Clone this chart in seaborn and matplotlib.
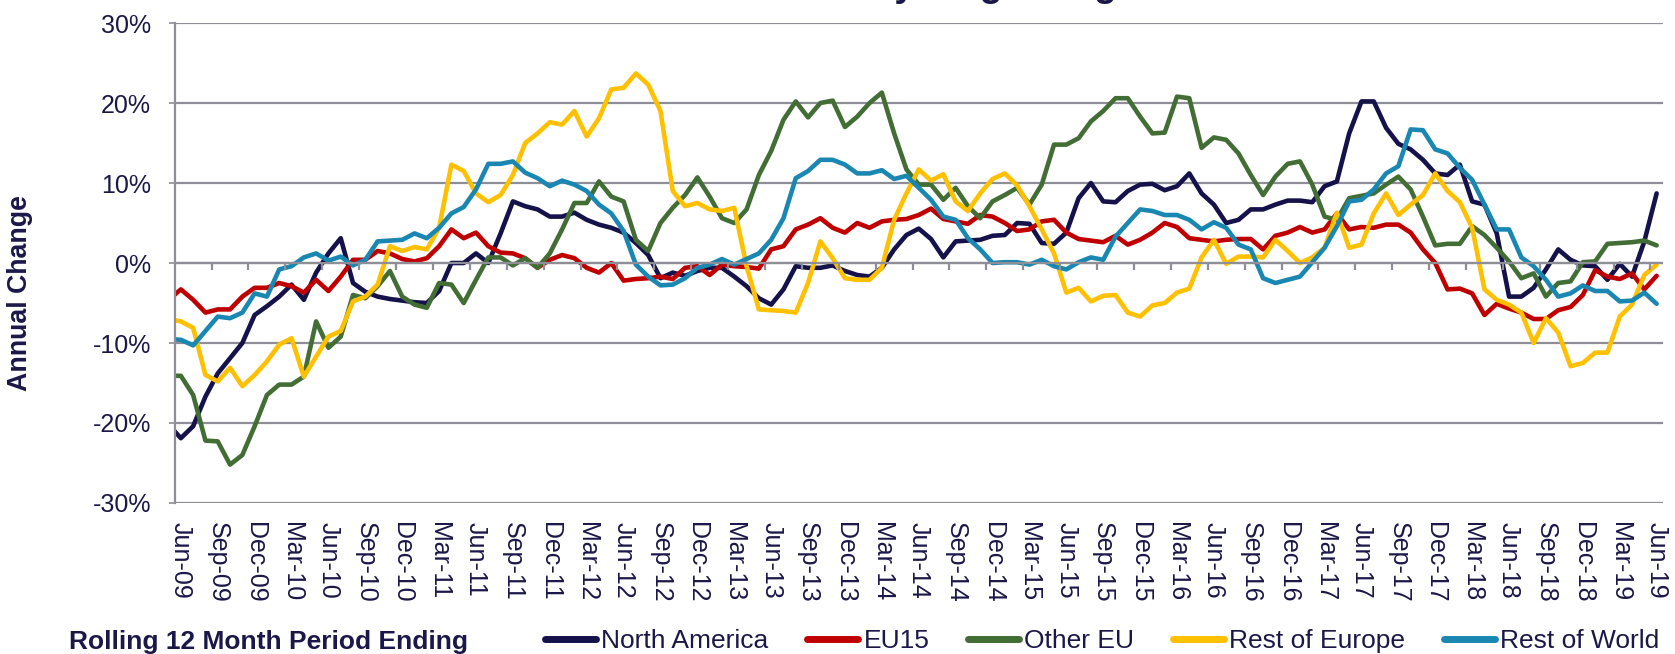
import pandas as pd
import matplotlib
matplotlib.use("Agg")
import matplotlib.pyplot as plt
import seaborn as sns

# monthly rolling-12-month annual change (%), May-09 .. Jun-19
# (May-09 sits just outside the left edge, as in the original chart)
months = pd.period_range("2009-05", "2019-06", freq="M")

north_america = [
    -20.2, -21.9, -20.4, -16.7, -13.8, -11.9, -10.0, -6.5, -5.4, -4.2, -2.7, -4.6,
    -1.2, 1.2, 3.1, -2.5, -3.6, -4.2, -4.5, -4.7, -4.9, -5.0, -3.5, 0.0,
    0.0, 1.2, 0.0, 3.7, 7.7, 7.1, 6.7, 5.8, 5.8, 6.3, 5.4, 4.8,
    4.4, 3.8, 2.5, 1.0, -1.9, -1.2, -1.6, -1.0, -0.6, -0.6, -1.7, -2.9,
    -4.4, -5.2, -3.3, -0.4, -0.6, -0.6, -0.3, -1.0, -1.5, -1.7, -0.6, 1.7,
    3.5, 4.3, 3.0, 0.7, 2.7, 2.8, 2.9, 3.4, 3.5, 5.0, 4.9, 2.5,
    2.4, 3.8, 8.1, 10.0, 7.7, 7.6, 9.0, 9.8, 9.9, 9.1, 9.6, 11.2,
    8.7, 7.3, 5.0, 5.4, 6.7, 6.7, 7.3, 7.8, 7.8, 7.6, 9.6, 10.2,
    16.2, 20.2, 20.2, 16.9, 14.9, 14.2, 12.9, 11.2, 11.0, 12.3, 7.7, 7.3,
    3.7, -4.2, -4.2, -3.1, -0.8, 1.7, 0.4, -0.3, -0.4, -2.1, -0.1, -1.7,
    2.7, 8.7,
]
eu15 = [
    -4.6, -3.3, -4.6, -6.2, -5.8, -5.8, -4.2, -3.1, -3.1, -2.5, -2.9, -3.7,
    -2.1, -3.5, -1.7, 0.4, 0.4, 1.5, 1.2, 0.5, 0.2, 0.6, 2.1, 4.2,
    3.1, 3.8, 2.1, 1.3, 1.2, 0.6, -0.6, 0.4, 1.0, 0.6, -0.6, -1.2,
    0.0, -2.2, -2.0, -1.9, -1.7, -2.0, -0.6, -0.4, -1.5, -0.2, -0.4, -0.5,
    -0.7, 1.7, 2.1, 4.2, 4.8, 5.6, 4.4, 3.8, 5.0, 4.4, 5.2, 5.4,
    5.5, 6.0, 6.8, 5.5, 5.2, 4.9, 6.0, 5.8, 5.0, 4.0, 4.2, 5.2,
    5.4, 3.8, 3.0, 2.8, 2.6, 3.4, 2.3, 2.9, 3.8, 5.0, 4.5, 3.1,
    2.9, 2.7, 2.9, 3.0, 3.0, 1.7, 3.4, 3.8, 4.5, 3.8, 4.2, 6.2,
    4.2, 4.5, 4.4, 4.8, 4.8, 3.8, 1.7, 0.0, -3.3, -3.2, -3.8, -6.5,
    -5.1, -5.7, -6.2, -7.0, -7.0, -5.9, -5.5, -4.0, -0.9, -1.7, -2.0, -1.3,
    -3.3, -1.6,
]
other_eu = [
    -14.1, -14.1, -16.5, -22.2, -22.3, -25.2, -24.0, -20.4, -16.5, -15.2, -15.2, -14.2,
    -7.3, -10.6, -9.2, -4.0, -4.4, -2.9, -1.0, -4.2, -5.2, -5.6, -2.5, -2.7,
    -5.0, -2.1, 0.7, 0.7, -0.3, 0.6, -0.6, 1.2, 4.2, 7.5, 7.5, 10.2,
    8.3, 7.7, 2.9, 1.5, 5.0, 6.9, 8.5, 10.7, 8.3, 5.6, 5.0, 6.7,
    11.0, 14.0, 17.9, 20.2, 18.2, 20.0, 20.3, 17.0, 18.3, 20.0, 21.3, 16.2,
    11.7, 9.8, 9.8, 7.9, 9.4, 7.1, 5.6, 7.7, 8.5, 9.4, 7.3, 9.8,
    14.8, 14.8, 15.6, 17.7, 19.0, 20.6, 20.6, 18.3, 16.2, 16.3, 20.8, 20.6,
    14.4, 15.7, 15.4, 13.7, 11.0, 8.5, 10.8, 12.4, 12.7, 9.8, 5.8, 5.4,
    8.1, 8.4, 8.7, 9.8, 10.8, 9.2, 5.8, 2.2, 2.4, 2.4, 4.6, 3.5,
    1.9, 0.2, -1.9, -1.3, -4.2, -2.5, -2.3, 0.1, 0.2, 2.4, 2.5, 2.6,
    2.8, 2.2,
]
rest_of_europe = [
    -7.0, -7.3, -8.1, -14.0, -14.8, -13.1, -15.4, -14.0, -12.3, -10.2, -9.4, -14.2,
    -11.7, -9.2, -8.5, -4.8, -4.2, -2.7, 2.1, 1.5, 2.0, 1.7, 4.4, 12.3,
    11.5, 8.7, 7.6, 8.5, 11.0, 15.0, 16.2, 17.6, 17.3, 19.0, 15.8, 18.1,
    21.7, 21.9, 23.7, 22.3, 19.0, 9.0, 7.1, 7.5, 6.7, 6.5, 6.9, -0.4,
    -5.8, -5.9, -6.0, -6.2, -2.5, 2.7, 0.6, -1.9, -2.1, -2.1, -0.6, 5.4,
    8.7, 11.7, 10.3, 11.1, 7.7, 6.5, 8.7, 10.5, 11.2, 9.7, 7.1, 4.2,
    1.2, -3.7, -3.1, -4.8, -4.1, -4.0, -6.2, -6.7, -5.3, -5.0, -3.7, -3.2,
    0.7, 2.9, -0.1, 0.8, 0.8, 0.7, 2.9, 1.5, 0.0, 0.7, 1.9, 6.3,
    1.9, 2.3, 6.2, 8.7, 6.0, 7.3, 8.5, 11.2, 9.0, 7.6, 4.4, -3.3,
    -4.6, -5.2, -6.2, -10.0, -6.9, -8.7, -12.9, -12.5, -11.2, -11.2, -6.7, -5.2,
    -1.5, -0.2,
]
rest_of_world = [
    -9.5, -9.6, -10.3, -8.5, -6.7, -6.9, -6.2, -3.8, -4.2, -0.8, -0.4, 0.7,
    1.2, 0.3, 0.8, -0.3, 0.4, 2.7, 2.8, 2.9, 3.7, 3.1, 4.4, 6.2,
    7.0, 9.2, 12.4, 12.4, 12.7, 11.3, 10.6, 9.6, 10.3, 9.8, 9.0, 7.3,
    6.2, 4.0, -0.2, -1.7, -2.8, -2.7, -1.9, -0.6, -0.2, 0.5, -0.2, 0.5,
    1.2, 2.9, 5.6, 10.6, 11.5, 12.9, 12.9, 12.3, 11.2, 11.2, 11.6, 10.5,
    10.9, 9.4, 7.9, 5.8, 5.4, 3.1, 1.7, 0.0, 0.1, 0.1, -0.2, 0.4,
    -0.4, -0.8, 0.1, 0.7, 0.4, 3.3, 5.0, 6.7, 6.5, 6.0, 6.0, 5.4,
    4.2, 5.1, 4.4, 2.3, 1.7, -1.9, -2.5, -2.1, -1.7, 0.1, 1.9, 4.6,
    7.7, 7.9, 9.2, 11.2, 12.1, 16.7, 16.6, 14.2, 13.7, 11.9, 10.4, 7.3,
    4.2, 4.2, 0.7, -0.4, -2.1, -4.2, -3.8, -2.8, -3.5, -3.5, -4.8, -4.7,
    -3.7, -5.1,
]

regions = ["North America", "EU15", "Other EU", "Rest of Europe", "Rest of World"]
colors = ["#15114a", "#c00000", "#426e35", "#ffc000", "#1a87b2"]

TEXT = "#1b1748"
GRID = "#8e8e96"


def main():
    sns.set_style("white")
    plt.rcParams["font.family"] = ["Liberation Sans", "DejaVu Sans"]

    df = pd.DataFrame({
        "pos": range(-1, len(months) - 1),   # Jun-09 = 0
        "North America": north_america,
        "EU15": eu15,
        "Other EU": other_eu,
        "Rest of Europe": rest_of_europe,
        "Rest of World": rest_of_world,
    })
    long = df.melt(id_vars="pos", var_name="region", value_name="change")

    fig = plt.figure(figsize=(16.75, 6.54), dpi=100)
    ax = fig.add_axes([0.1043, 0.2309, 0.8884, 0.7339])

    sns.lineplot(data=long, x="pos", y="change", hue="region", hue_order=regions,
                 palette=colors, linewidth=3.3, estimator=None, legend=False, ax=ax)
    for ln in ax.lines:
        ln.set_solid_joinstyle("round")
        ln.set_solid_capstyle("round")

    ax.set_xlim(-0.5, 120.5)
    ax.set_ylim(-30, 30)

    # y axis
    ax.set_yticks(range(-30, 31, 10))
    ax.set_yticklabels([f"{v}%" for v in range(-30, 31, 10)])
    ax.yaxis.grid(True, color=GRID, linewidth=1.6)
    ax.tick_params(axis="y", length=4, width=1.2, color=GRID, left=True,
                   labelsize=18, labelcolor=TEXT, pad=13)

    # x axis: labels every quarter at the bottom, tick marks on the 0% line
    quarter = [p for p in df["pos"] if p >= 0 and p % 3 == 0]
    ax.set_xticks(quarter)
    ax.set_xticklabels([months[p + 1].strftime("%b-%y") for p in quarter],
                       rotation=-90)
    ax.tick_params(axis="x", length=0, labelsize=18, labelcolor=TEXT, pad=14)
    ax.vlines([p - 0.5 for p in quarter if p > 0], -0.9, 0, color=GRID, linewidth=1.6)
    ax.axhline(0, color=GRID, linewidth=1.6)

    for side in ["top", "right", "bottom"]:
        ax.spines[side].set_visible(False)
    ax.spines["left"].set_color(GRID)
    ax.spines["left"].set_linewidth(1.6)
    ax.set_xlabel("")
    ax.set_ylabel("")

    fig.text(0.012, 0.552, "Annual Change", rotation=90, ha="center", va="center",
             fontsize=19.3, fontweight="bold", color=TEXT)
    fig.text(0.041, 0.008, "Rolling 12 Month Period Ending", ha="left", va="baseline",
             fontsize=19, fontweight="bold", color=TEXT)
    # the chart title sits above the visible area: only its descenders show
    fig.text(0.527, 1.006, "Annual Growth by Origin Region", ha="center", va="baseline",
             fontsize=27, fontweight="bold", color=TEXT)

    handles = [plt.Line2D([], [], color=c, linewidth=5, solid_capstyle="round")
               for c in colors]
    leg = fig.legend(handles, regions, ncol=5, loc="lower right",
                     bbox_to_anchor=(1.005, -0.035), frameon=False, fontsize=19,
                     handlelength=1.95, handletextpad=0.2, columnspacing=1.45)
    for t in leg.get_texts():
        t.set_color(TEXT)

    fig.savefig("out.png", dpi=100)


if __name__ == "__main__":
    main()
